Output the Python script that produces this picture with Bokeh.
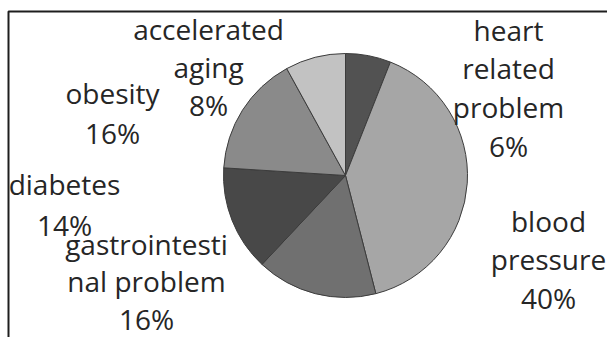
import math
from bokeh.plotting import figure
from bokeh.models import ColumnDataSource, Range1d
from bokeh.core.properties import value
from bokeh.embed import file_html
from bokeh.resources import INLINE

# ---- data ----
categories = ["heart related problem", "blood pressure", "gastrointestinal problem",
              "diabetes", "obesity", "accelerated aging"]
values = [6, 40, 16, 14, 16, 8]
label_lines = [["heart", "related", "problem"], ["blood", "pressure"],
               ["gastrointesti", "nal problem"], ["diabetes"], ["obesity"],
               ["accelerated", "aging"]]
colors = ["#525252", "#a6a6a6", "#707070", "#484848", "#8a8a8a", "#c2c2c2"]

# ---- layout (pixel space, y downward) ----
W, H = 607, 337
cx, cy, r = 345, 175, 122
label_anchor = [(508, 29), (548, 220), (146, 243), (64, 183), (112, 92), (208, 28)]
line_step = [38.7, 38.5, 37.5, 41, 40, 38]

p = figure(width=W, height=H, output_backend="svg", toolbar_location=None,
           x_range=Range1d(0, W), y_range=Range1d(0, H), min_border=0,
           match_aspect=False)
p.axis.visible = False
p.grid.visible = False
p.outline_line_color = None
p.background_fill_color = "white"
p.border_fill_color = "white"

total = sum(values)
starts, ends = [], []
cum = 0
for v in values:
    starts.append(math.pi / 2 - 2 * math.pi * cum / total)
    cum += v
    ends.append(math.pi / 2 - 2 * math.pi * cum / total)

src = ColumnDataSource(dict(start=starts, end=ends, color=colors, cat=categories))
p.wedge(x=cx, y=H - cy, radius=r, start_angle="start", end_angle="end",
        direction="clock", fill_color="color", line_color="#3c3c3c",
        line_width=1, source=src)

tx, ty, tt = [], [], []
for (ax, ay), lines, v, step in zip(label_anchor, label_lines, values, line_step):
    all_lines = lines + [f"{v}%"]
    for i, t in enumerate(all_lines):
        tx.append(ax)
        ty.append(H - (ay + i * step))
        tt.append(t)

p.text(x=tx, y=ty, text=tt, text_align="center", text_baseline="alphabetic",
       text_font=value("Open Sans"), text_font_size="28px", text_color="#262626")

# frame (left and top edges of the chart area border)
p.line(x=[8, 8, W + 5], y=[-5, H - 11, H - 11], line_color="#1e1e1e", line_width=2)

open("out.html", "w").write(file_html(p, INLINE))
